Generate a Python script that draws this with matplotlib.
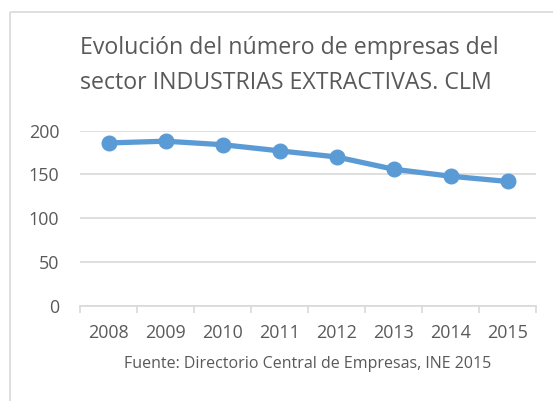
import matplotlib
matplotlib.use("Agg")
import matplotlib.pyplot as plt
from matplotlib.patches import Rectangle

years = ["2008", "2009", "2010", "2011", "2012", "2013", "2014", "2015"]
empresas = [186, 188, 184, 177, 170, 156, 148, 142]
yticks = [0, 50, 100, 150, 200]

W, H = 553, 401
fig = plt.figure(figsize=(W / 100, H / 100), dpi=100)
fig.patch.set_facecolor("white")
plt.rcParams['font.family'] = ['Open Sans', 'DejaVu Sans']

grey = "#595959"
gridc = "#D9D9D9"
renderer = fig.canvas.get_renderer()


def fit(t, target_w):
    w = t.get_window_extent(renderer).width
    t.set_fontsize(t.get_fontsize() * target_w / w)


# outer chart border
fig.patches.append(Rectangle((10 / W, 1 - 12 / H), (W + 20) / W, -(H + 20) / H,
                             transform=fig.transFigure, fill=False,
                             edgecolor=gridc, linewidth=1.2))

ax = fig.add_axes([80 / W, 1 - 305.7 / H, (536 - 80) / W, (305.7 - 130.7) / H])
x = list(range(len(years)))
ax.plot(x, empresas, color="#5B9BD5", linewidth=3.8, marker="o",
        markersize=10.5, solid_capstyle="round", zorder=3, clip_on=False)
ax.set_xlim(-0.5, len(years) - 0.5)
ax.set_ylim(0, 200)
ax.set_yticks(yticks)
ax.set_yticklabels([str(v) for v in yticks])
ax.set_xticks(x)
ax.set_xticklabels(years)
ax.set_xticks([i - 0.5 for i in range(len(years) + 1)], minor=True)
for s in ["top", "right", "left"]:
    ax.spines[s].set_visible(False)
ax.spines["bottom"].set_color(gridc)
ax.spines["bottom"].set_linewidth(1.2)
ax.grid(axis="y", color=gridc, linewidth=1.2)
ax.set_axisbelow(True)
ax.tick_params(axis="y", length=0, pad=15, labelcolor=grey)
ax.tick_params(axis="x", which="major", length=0, pad=13.5, labelcolor=grey)
ax.tick_params(axis="x", which="minor", length=5, color=gridc, width=1.2)

# size tick labels to match reference width (~41px for "2008")
lab = ax.get_xticklabels()[0]
w0 = lab.get_window_extent(renderer).width
fs = lab.get_fontsize() * 41 / w0
ax.tick_params(axis="both", which="major", labelsize=fs)

t1 = fig.text(80 / W, 1 - 48 / H, "Evolución del número de empresas del",
              ha="left", va="center", fontsize=14.5, color=grey)
fit(t1, 418)
t2 = fig.text(80 / W, 1 - 83 / H, "sector INDUSTRIAS EXTRACTIVAS. CLM",
              ha="left", va="center", fontsize=t1.get_fontsize(), color=grey)
t3 = fig.text(308 / W, 1 - 364 / H, "Fuente: Directorio Central de Empresas, INE 2015",
              ha="center", va="center", fontsize=9, color=grey)
fit(t3, 370)

fig.savefig("out.png", dpi=100, facecolor="white")
